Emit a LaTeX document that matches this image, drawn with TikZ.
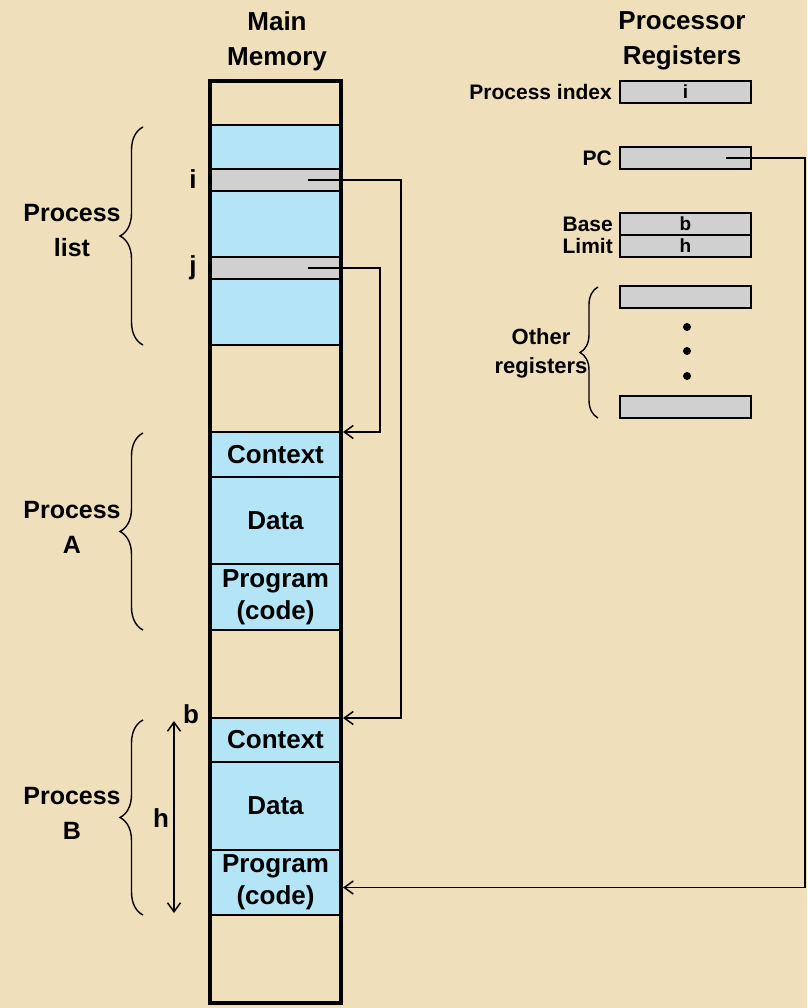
\documentclass[tikz,border=0pt]{standalone}
\usepackage{fontspec}
\setmainfont{Liberation Sans}
\usetikzlibrary{arrows.meta,decorations.pathreplacing}
\definecolor{bg}{HTML}{EFDFBA}
\definecolor{memblue}{HTML}{B3E5F7}
\definecolor{reggray}{HTML}{D0D0D0}
\begin{document}
\begin{tikzpicture}[x=1pt,y=-1pt,
  seg/.style={draw,line width=1.6pt,minimum width=131pt,inner sep=0pt,outer sep=0pt,font=\bfseries\fontsize{26}{32}\selectfont,align=center},
  blueseg/.style={seg,fill=memblue},
  grayseg/.style={seg,fill=reggray},
  emptyseg/.style={seg},
  reg/.style={draw,line width=1.6pt,fill=reggray,minimum width=131pt,minimum height=22pt,inner sep=0pt,outer sep=0pt,font=\bfseries\fontsize{19}{19}\selectfont},
  title/.style={font=\bfseries\fontsize{26}{35}\selectfont,align=center,inner sep=0pt},
  lbl/.style={font=\bfseries\fontsize{25}{35}\selectfont,align=center,inner sep=0pt},
  slbl/.style={font=\bfseries\fontsize{22}{29}\selectfont,align=center,inner sep=0pt},
  rlbl/.style={font=\bfseries\fontsize{21}{22}\selectfont,inner sep=0pt,anchor=east},
  letter/.style={font=\bfseries\fontsize{26}{26}\selectfont,inner sep=0pt},
  conn/.style={line width=1.5pt,-{Straight Barb[length=9pt,width=13pt,line width=1.5pt]}},
  dimarr/.style={line width=1.5pt,{Straight Barb[length=9pt,width=13pt,line width=1.5pt]}-{Straight Barb[length=9pt,width=13pt,line width=1.5pt]}},
  br/.style={decorate,decoration={brace,amplitude=#1},line width=1.4pt},
  dotnode/.style={circle,fill=black,inner sep=0pt,minimum size=8pt}
]
\fill[bg] (0,0) rectangle (807,1008);
\useasboundingbox (0,0) rectangle (807,1008);

% titles
\node[title] (tmem) at (277,41) {Main\\Memory};
\node[title] (treg) at (682,41) {Processor\\Registers};

% memory segments
\node[emptyseg,minimum height=44pt] (e1) at (275.5,103) {};
\node[blueseg,minimum height=44pt] (l1) at (275.5,147) {};
\node[grayseg,minimum height=22pt] (gi) at (275.5,180) {};
\node[blueseg,minimum height=66pt] (l2) at (275.5,224) {};
\node[grayseg,minimum height=22pt] (gj) at (275.5,268) {};
\node[blueseg,minimum height=66pt] (l3) at (275.5,312) {};
\node[emptyseg,minimum height=87pt] (e2) at (275.5,388.5) {};
\node[blueseg,minimum height=45pt] (ctxA) at (275.5,454.5) {Context};
\node[blueseg,minimum height=87pt] (dataA) at (275.5,520.5) {Data};
\node[blueseg,minimum height=66pt] (progA) at (275.5,597) {Program\\(code)};
\node[emptyseg,minimum height=88pt] (e3) at (275.5,674) {};
\node[blueseg,minimum height=44pt] (ctxB) at (275.5,740) {Context};
\node[blueseg,minimum height=88pt] (dataB) at (275.5,806) {Data};
\node[blueseg,minimum height=65pt] (progB) at (275.5,882.5) {Program\\(code)};
\node[emptyseg,minimum height=88pt] (e4) at (275.5,959) {};
\draw[line width=4pt] (e1.north west) rectangle (e4.south east);

% labels near memory
\node[letter] (li) at (193,179) {i};
\node[letter] (lj) at (193,268) {j};
\node[letter] (lb) at (191,714) {b};
\node[letter] (lh) at (161,818) {h};

% braces and group labels
\draw[br=23pt] (143,345) -- (143,127);
\node[lbl] (plist) at (72,231) {Process\\list};
\draw[br=23pt] (143,630) -- (143,433);
\node[lbl] (pA) at (72,527) {Process\\A};
\draw[br=23pt] (143,915) -- (143,720);
\node[lbl] (pB) at (72,813) {Process\\B};

% h dimension
\coordinate (hT) at (174,721);
\coordinate (hB) at (174,913);
\draw[dimarr] (hT) -- (hB);

% registers
\node[reg] (pidx) at (685.5,92) {i};
\node[rlbl] at (612,92) {Process index};
\node[reg] (pc) at (685.5,158) {};
\node[rlbl] at (612,158) {PC};
\node[reg] (base) at (685.5,224) {b};
\node[rlbl] at (613,224) {Base};
\node[reg] (limit) at (685.5,246) {h};
\node[rlbl] at (613,246) {Limit};
\node[reg] (o1) at (685.5,297) {};
\node[reg] (o2) at (685.5,407) {};
\node[dotnode] (d1) at (687,327) {};
\node[dotnode] (d2) at (687,351) {};
\node[dotnode] (d3) at (687,376) {};
\draw[br=18pt] (598,418) -- (598,287);
\node[slbl] (other) at (541,353.5) {Other\\registers};

% connectors
\coordinate (iR) at (401,180);
\draw[conn] ([xshift=32pt]gi.center) -- (iR) |- ([xshift=2pt]ctxB.north east);
\coordinate (jR) at (380,268);
\draw[conn] ([xshift=32pt]gj.center) -- (jR) |- ([xshift=2pt]ctxA.north east);
\coordinate (pcR) at (805,158);
\draw[conn] ([xshift=40pt]pc.center) -- (pcR) |- ([xshift=2pt,yshift=-5pt]progB.east);
\end{tikzpicture}
\end{document}
